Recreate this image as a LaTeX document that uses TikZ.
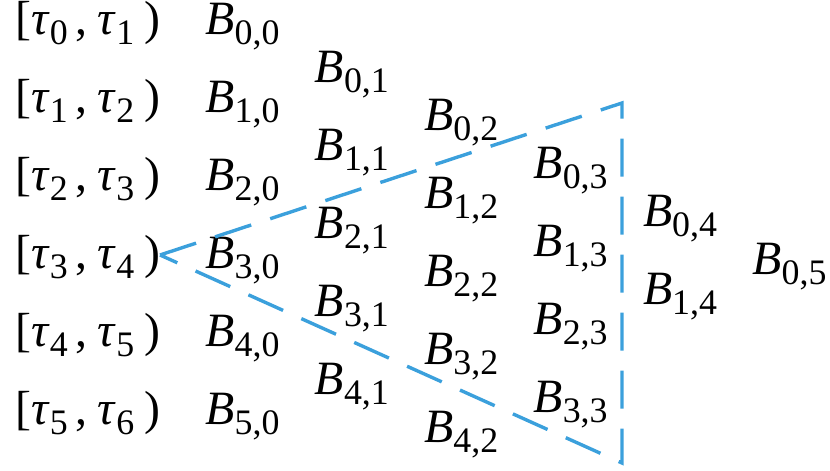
\documentclass[tikz,border=0pt]{standalone}
\usepackage{fontspec}
\setmainfont{Liberation Serif}
\usetikzlibrary{calc}
\definecolor{triblue}{RGB}{59,160,220}
\newcommand\ssub[1]{\raisebox{-0.2em}{\fontsize{18}{18}\selectfont #1}}

\begin{document}
\begin{tikzpicture}[x=0.5bp, y=-0.5bp,
    lab/.style={anchor=base west, inner sep=0pt, font=\fontsize{24}{29}\selectfont},
    tri/.style={triblue, line width=1.7bp, dash pattern=on 19bp off 10bp, line join=miter}]
  \useasboundingbox (0,0) rectangle (830,471);
  % intervals
  \foreach \i [evaluate=\i as \j using int(\i+1)] in {0,...,5}
    \node[lab] (I-\i) at (15,{35+78*\i}) {[\textit{τ}\ssub{\i}\kern4pt,\kern5pt\textit{τ}\ssub{\j}\kern5pt)};
  % B_{i,k} columns (column/last row)
  \foreach \k/\n in {0/5,1/4,2/4,3/3,4/1,5/0}
    \foreach \i in {0,...,\n}
      \node[lab] (B-\i-\k) at ({205+109.4*\k},{35+48*\k+78*\i}) {\textit{B}\ssub{\i,\k}};
  % dashed triangle
  \coordinate (apex) at (160,255);
  \coordinate (top) at (622,103);
  \coordinate (bot) at (622,463);
  \draw[tri] (apex) -- (top) -- (bot) -- cycle;
\end{tikzpicture}
\end{document}
